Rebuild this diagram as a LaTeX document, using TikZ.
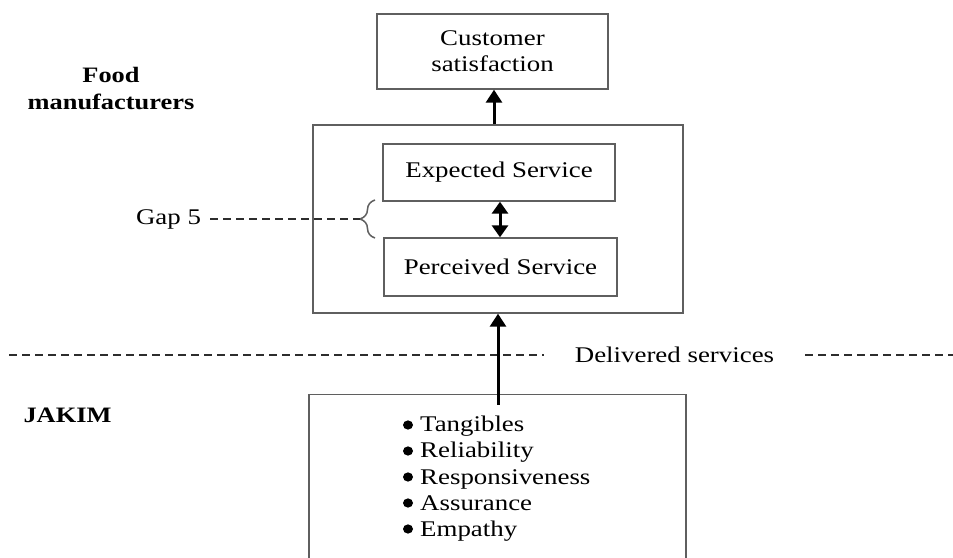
\documentclass[tikz,border=0pt]{standalone}
\usepackage{fontspec}
\setmainfont{Liberation Serif}[FakeStretch=1.2]
\usetikzlibrary{arrows.meta,decorations.pathreplacing}
\definecolor{boxgray}{RGB}{95,95,95}
\definecolor{dashgray}{RGB}{45,45,45}
\begin{document}
\begin{tikzpicture}[x=1pt,y=1pt,
  every node/.style={font=\fontsize{22.4}{26}\selectfont, inner sep=0pt},
  box/.style={draw=boxgray, line width=1.4pt, rectangle, align=center},
  arr/.style={line width=3pt, -{Triangle[length=13pt,width=16pt]}},
  dblarr/.style={line width=3pt, {Triangle[length=12pt,width=16pt]}-{Triangle[length=12pt,width=16pt]}},
  dashline/.style={draw=dashgray, line width=1.6pt, dash pattern=on 8pt off 5pt},
  lbl/.style={font=\fontsize{22}{27}\selectfont\bfseries, align=center},
  item/.style={anchor=base west},
  bul/.style={fill=black}
]
\clip (0,0) rectangle (953,557);
\fill[white] (0,0) rectangle (953,557);

% boxes
\node[box, minimum width=231pt, minimum height=75pt] (cust) at (492.5,505.5) {Customer\\satisfaction};
\node[box, minimum width=370pt, minimum height=188pt] (outer) at (498,338) {};
\node[box, minimum width=232pt, minimum height=57pt] (exp) at (499,384.5) {Expected Service};
\node[box, minimum width=233pt, minimum height=58pt] (perc) at (500.5,290) {Perceived Service};
\node[box, minimum width=377pt, minimum height=200pt, anchor=north] (jakimbox) at (497.5,163) {};

% side labels
\node[lbl] (food) at (111,468.5) {Food\\manufacturers};
\node[lbl] (jakim) at (67.5,142) {JAKIM};
\node (gap) at (168.5,338) {Gap 5};
\node (deliv) at (674.5,202) {Delivered services};

% bullet items
\node[item] (i1) at (420,125) {Tangibles};
\node[item] (i2) at (420,99) {Reliability};
\node[item] (i3) at (420,73) {Responsiveness};
\node[item] (i4) at (420,47) {Assurance};
\node[item] (i5) at (420,21) {Empathy};
\foreach \i in {i1,i2,i3,i4,i5}
  \fill[bul] (\i.base west) ++(-12,7) circle[x radius=5pt, y radius=4.6pt];

% dashed divider
\coordinate (dl1) at (9,202);
\coordinate (dl2) at (544,202);
\coordinate (dr1) at (805,202);
\coordinate (dr2) at (953,202);
\draw[dashline] (dl1) -- (dl2);
\draw[dashline] (dr1) -- (dr2);

% brace and gap line
\coordinate (bb) at (375,319);
\coordinate (bt) at (375,357);
\coordinate (btip) at (360,338);
\draw[draw=boxgray, line width=1.5pt, decorate, decoration={brace, amplitude=15pt, aspect=0.5}] (bb) -- (bt);
\draw[dashline] (gap.east) ++(9,0) coordinate (gs) (gs) -- (btip);

% arrows
\draw[arr] (outer.north -| cust.south) ++(1.5,0) coordinate (a1) (a1) -- (a1 |- cust.south);
\draw[dblarr] (500,0 |- exp.south) coordinate (d1) (d1) -- (d1 |- perc.north);
\coordinate (jstart) at (498,152);
\draw[arr] (jstart) -- (jstart |- outer.south);
\end{tikzpicture}
\end{document}
